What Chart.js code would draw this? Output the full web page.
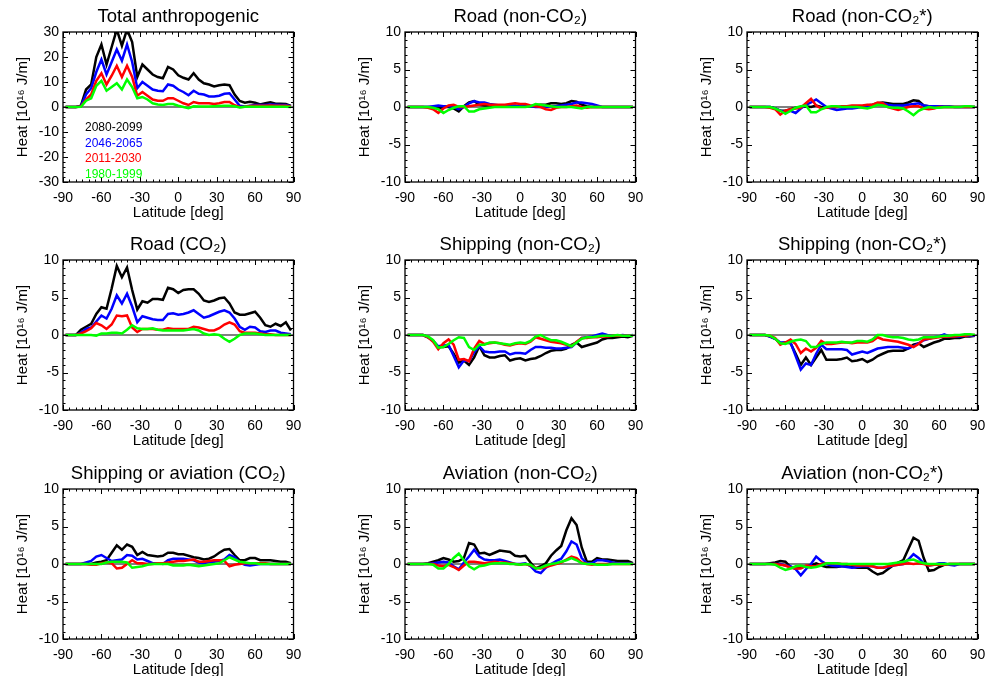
<!DOCTYPE html>
<html><head><meta charset="utf-8">
<script src="https://cdn.jsdelivr.net/npm/chart.js@4/dist/chart.umd.min.js"></script>
<style>
html,body{margin:0;padding:0;background:#fff;width:987px;height:676px;overflow:hidden;position:relative;}
canvas{position:absolute;}
</style></head><body>
<script>
// ---------- DATA ----------
const latitudes = [-88,-84,-80,-76,-72,-68,-64,-60,-56,-52,-48,-44,-40,-36,-32,-28,-24,-20,-16,-12,-8,-4,0,4,8,12,16,20,24,28,32,36,40,44,48,52,56,60,64,68,72,76,80,84,88];
const periods = ['2080-2099','2046-2065','2011-2030','1980-1999'];
const periodColors = ['#000000','#0000ff','#ff0000','#00ff00'];
const xTickLabels = [-90,-60,-30,0,30,60,90];
const yTicksTotal = [-30,-20,-10,0,10,20,30];
const yTicksSector = [-10,-5,0,5,10];
const panelTitles = ['Total anthropogenic','Road (non-CO\u2082)','Road (non-CO\u2082*)','Road (CO\u2082)','Shipping (non-CO\u2082)','Shipping (non-CO\u2082*)','Shipping or aviation (CO\u2082)','Aviation (non-CO\u2082)','Aviation (non-CO\u2082*)'];

// Total anthropogenic
const total_2080 = [0,0,0,0.5,7, 9,20,25,17,24, 31,24.5,31,26,12, 17,15,13,12,11.5, 16,15,12.7,11.7,11, 13.5,11,9.5,9,8.2, 8.7,9,8.7,5,2.4, 1.7,2.1,1.7,1,1.5, 1.9,1.3,1.3,1.2,0.4];
const total_2046 = [0,0,0,0.3,5, 7.5,14,19,13,18, 23,18.5,25,18,7.5, 10,8.5,7,6.5,6.3, 9,8.5,7,6,4.7, 6.5,5.3,5,4.2,4.2, 4.5,5.3,5.5,3,0.5, 0.2,0.5,0.8,0.8,0.8, 1,0.9,0.8,0.8,0.3];
const total_2011 = [0,0,0,0.2,3, 5,10.5,13.5,9,12.5, 16.5,12,16.5,12,4.5, 6,4.5,3,2.5,2.5, 3.5,3.5,2.5,1.5,0.8, 2,1.5,1.5,1.5,1.2, 1.5,2,2,0.7,0, 0.1,0.4,0.5,0.5,0.5, 0.6,0.5,0.5,0.5,0.2];
const total_1980 = [0,0,0,0.1,2.5, 3.5,8.5,10.5,6.5,8, 9.5,7,11,8,3.5, 4,3,1.5,1,0.8, 1.2,1.2,0.5,0,-0.5, 0.3,0.2,0.2,0.2,0.3, 0.4,0.5,0.5,0.3,-0.2, 0.1,0.1,0.1,0.1,0.1, 0.1,0.1,0.1,0.1,0];

// Road (non-CO2)
const roadNon_2080 = [0,0,0,0,0, 0,-0.2,0,0,-0.2, -0.6,0.1,0.6,0.8,0.3, 0.2,0.2,0.1,0.1,0.1, 0.1,0.1,0.1,0.1,0.1, 0.2,0.3,0.3,0.5,0.5, 0.4,0.5,0.8,0.7,0.3, 0.1,0,0,0,0, 0,0,0,0,0];
const roadNon_2046 = [0,0,0,0,0, 0.1,0.2,0.1,0.1,0, -0.3,0,0.5,0.8,0.6, 0.6,0.4,0.3,0.2,0.2, 0.2,0.2,0.1,0.1,0.1, 0,0,0,0.1,0.1, 0.2,0.3,0.4,0.6,0.6, 0.5,0.4,0.2,0,0, 0,0,0,0,0];
const roadNon_2011 = [0,0,0,0,-0.1, -0.3,-0.8,-0.2,0.2,0.3, 0,0,0.1,0.2,0.3, 0.4,0.3,0.3,0.3,0.3, 0.4,0.5,0.4,0.4,0.2, 0.1,0,-0.3,-0.4,-0.1, 0,0,0.1,0.2,0, -0.1,0,0,0,0, 0,0,0,0,0];
const roadNon_1980 = [0,0,0,0,0, -0.1,-0.3,-0.8,-0.4,-0.1, 0.1,0.1,-0.6,-0.6,-0.3, -0.2,-0.1,0,0,0, 0,0,0,0,0.1, 0.4,0.3,0.2,0.1,0, 0,0,0,-0.1,-0.2, 0,0,0,0,0, 0,0,0,0,0];

// Road (non-CO2*)
const roadNonS_2080 = [0,0,0,0,0, -0.2,-0.5,-0.5,-0.3,-0.1, 0,0.1,0,0.2,0, -0.1,-0.1,0,0,0.1, 0.1,0.1,0.1,0.2,0.3, 0.5,0.6,0.5,0.4,0.4, 0.4,0.6,0.9,0.8,0.2, 0.1,0.1,0,0,0, 0,0,0,0,0];
const roadNonS_2046 = [0,0,0,0,0, -0.2,-0.5,-0.7,-0.5,-0.8, -0.2,0.3,0.6,1,0.5, 0,-0.2,-0.4,-0.3,-0.2, -0.2,-0.1,0,0.1,0.2, 0.4,0.5,0.3,0.2,0.2, 0.2,0.3,0.4,0.5,0.2, 0.1,0.1,0.1,0.1,0.1, 0,0,0,0,0];
const roadNonS_2011 = [0,0,0,0,-0.1, -0.3,-1,-0.5,-0.3,-0.2, -0.1,0.5,1.1,0.2,-0.2, -0.1,0,0,0.1,0.1, 0.2,0.2,0.2,0.3,0.3, 0.6,0.5,0,-0.2,-0.4, -0.2,0,0.1,0.1,-0.2, -0.3,-0.2,0,0,0, 0,0,0,0,0];
const roadNonS_1980 = [0,0,0,0,0, -0.2,-0.5,-0.9,-0.5,-0.1, 0.1,0.2,-0.7,-0.7,-0.3, 0,0.1,0.1,0,0, 0,0,-0.1,-0.2,0, 0.3,0.2,0,-0.1,-0.1, -0.2,-0.6,-1.1,-0.5,-0.2, 0,-0.1,-0.1,0,0, 0,0,0.1,0.1,0];

// Road (CO2)
const roadCO2_2080 = [0,0,0,0.7,1.1, 1.5,2.8,3.7,3.5,6.2, 9.2,7.7,9,6,3.4, 4.5,4.3,4.8,4.8,4.7, 6.3,6.1,5.6,6,6.1, 6.1,5.5,4.6,4.4,4.6, 4.9,5,4.2,3,2.7, 2.7,2.9,3.1,2.3,1.3, 1.1,1.5,1.2,1.7,0.6];
const roadCO2_2046 = [0,0,0,0.3,0.8, 1,1.8,2.6,2.2,3.5, 5.3,4.2,5.5,3.8,1.7, 2.5,2.3,2.1,2,2, 2.8,2.9,2.7,2.8,3, 3.3,2.8,2.3,2.5,2.8, 3.1,3.3,3,2.2,1.1, 0.7,1.1,1,0.5,0.4, 0.6,0.6,0.3,0.2,0.1];
const roadCO2_2011 = [0,0,0,0.2,0.5, 0.9,1.6,1.3,0.8,1.4, 2.6,2.5,2.6,1,0.4, 0.8,0.8,0.8,0.7,0.7, 0.9,0.8,0.8,0.8,0.8, 1.1,1,0.8,0.6,0.6, 0.9,1.4,1.7,1.4,0.5, 0.3,0.3,0.3,0.2,0.1, 0.1,0,0,0,0];
const roadCO2_1980 = [0,0,0,0,0, 0,-0.1,0.2,0.2,0.3, 0.3,0.2,0.7,1.3,0.9, 0.8,0.8,0.9,0.7,0.6, 0.6,0.6,0.6,0.6,0.7, 0.8,0.6,0.2,0,0.1, 0,-0.5,-0.9,-0.5,0, 0.2,0.2,0.2,0.1,0, 0,0,0,0,0];

// Shipping (non-CO2)
const shipNon_2080 = [0,0,0,0,-0.3, -0.8,-1.6,-1.6,-1.5,-2.5, -3.7,-3.4,-4,-3,-1.5, -2.7,-3,-3,-2.8,-2.7, -3.4,-3.2,-3.1,-3.4,-3.2, -3.1,-2.8,-2.4,-2.1,-2, -2,-1.8,-1.3,-1,-1.6, -1.4,-1.2,-1,-0.6,-0.4, -0.4,-0.3,-0.2,-0.3,-0.1];
const shipNon_2046 = [0,0,0,0,-0.3, -0.8,-1.5,-1.4,-1.3,-2.8, -4.3,-3.4,-3.5,-2.3,-1.5, -2.2,-2.3,-2.3,-2.2,-2.2, -2.6,-2.4,-2.4,-2.5,-2, -1.6,-1.6,-1.7,-1.7,-1.8, -1.8,-1.7,-1.6,-1,-0.4, -0.3,-0.2,0,0.2,0, -0.1,-0.1,0,-0.1,0];
const shipNon_2011 = [0,0,0,0,-0.3, -0.9,-1.9,-1.1,-0.6,-1.3, -3.3,-3.2,-3.5,-1.8,-0.8, -1.2,-1.1,-1,-1.1,-1.3, -1.4,-1.2,-1.1,-1.2,-0.9, -0.3,-0.5,-0.7,-0.9,-1, -1.1,-1.3,-1.5,-0.9,-0.4, -0.4,-0.3,-0.3,-0.2,-0.2, -0.1,-0.1,-0.1,-0.1,-0.1];
const shipNon_1980 = [0,0,0,0,-0.2, -0.7,-1.7,-1.6,-1.2,-0.7, -0.3,-0.4,-1.6,-2,-1.3, -1.3,-1,-1,-1.1,-1.2, -1.3,-1.1,-1,-1.1,-0.8, -0.2,0,-0.4,-0.7,-0.7, -0.9,-1.2,-1.5,-1,-0.5, -0.3,-0.3,-0.2,-0.1,-0.1, -0.1,0,-0.1,-0.1,-0.1];

// Shipping (non-CO2*)
const shipNonS_2080 = [0,0,0,0,-0.2, -0.5,-1.1,-1,-1.1,-2.5, -4,-3,-4,-3,-2, -3.3,-3.3,-3.3,-3.2,-3, -3.5,-3.4,-3.2,-3.6,-3.3, -2.8,-2.5,-2.2,-2.1,-2.1, -2.1,-1.8,-1.3,-1.1,-1.6, -1.3,-1,-0.8,-0.5,-0.5, -0.4,-0.4,-0.2,-0.2,-0.1];
const shipNonS_2046 = [0,0,0,0,-0.2, -0.5,-1,-1,-1,-2.8, -4.6,-3.8,-4,-2.5,-1.3, -1.9,-1.9,-1.9,-1.9,-2, -2.6,-2.4,-2.2,-2.4,-2.1, -1.8,-1.7,-1.6,-1.6,-1.6, -1.7,-1.8,-1.5,-1.1,-0.7, -0.5,-0.3,-0.2,0.1,-0.2, -0.2,-0.2,-0.1,-0.1,-0.1];
const shipNonS_2011 = [0,0,0,0,-0.1, -0.4,-1.3,-1,-0.6,-1.2, -2.4,-1.8,-2.2,-1.7,-0.8, -1.2,-1.2,-1.1,-1,-1, -1.1,-1,-1,-1,-0.8, -0.3,-0.6,-0.7,-0.8,-0.9, -1.1,-1.3,-1.6,-1.2,-0.6, -0.5,-0.4,-0.3,-0.2,-0.2, -0.2,-0.1,-0.1,0,0];
const shipNonS_1980 = [0,0,0,0,-0.1, -0.5,-1.1,-1.2,-0.9,-0.7, -0.6,-0.8,-1.6,-1.6,-1.2, -1,-1,-1,-0.9,-1, -1,-0.8,-0.8,-0.9,-0.6, 0,0,-0.2,-0.3,-0.3, -0.4,-0.6,-0.7,-0.6,-0.3, -0.3,-0.3,-0.2,-0.1,-0.1, 0,0,0.1,0.1,0];

// Shipping or aviation (CO2)
const shipAvCO2_2080 = [0,0,0,0,0, 0,0.2,0.3,0.5,1.5, 2.5,1.9,2.6,2.3,1.2, 1.6,1.2,1.1,1,1.1, 1.5,1.5,1.3,1.3,1.1, 0.9,0.8,0.6,0.7,1, 1.5,1.9,2,1.2,0.5, 0.5,0.8,0.8,0.5,0.5, 0.5,0.4,0.3,0.3,0.1];
const shipAvCO2_2046 = [0,0,0,0,0.2, 0.4,1,1.2,0.8,0.4, 0.5,0.6,1.2,1.1,0.6, 0.7,0.4,0.1,0.1,0, 0.5,0.7,0.7,0.7,0.6, 0.5,0.2,0.1,0.3,0.3, 0.4,0.6,1.2,0.9,0.2, -0.1,-0.2,-0.1,0,0, 0,0,0,0,0];
const shipAvCO2_2011 = [0,0,0,0,0, -0.1,-0.1,0.1,0.2,0.1, -0.6,-0.5,0,0.5,0.1, 0.1,0,0,0.1,0.1, 0.2,0.3,0.4,0.4,0.5, 0.6,0.3,0.3,0.4,0.5, 0.5,0.4,-0.3,-0.1,0, 0.1,0.1,0.1,0.1,0.1, 0,0,0,0,0];
const shipAvCO2_1980 = [0,0,0,0,0, 0,0,0,0.2,0.3, 0.3,0.3,0.2,-0.5,-0.4, -0.3,-0.1,0,0,0, 0,-0.2,-0.2,-0.2,-0.1, -0.2,-0.3,-0.2,-0.1,0, 0.1,0.5,0.9,0.6,0.3, 0.2,0.1,0.1,0,0, 0,0,0,0,0];

// Aviation (non-CO2)
const avNon_2080 = [0,0,0,0,0.1, 0.3,0.5,0.8,0.6,0.3, 0.4,0.8,2.8,2.6,1.4, 1.5,1.2,1.5,1.8,1.7, 1.6,1.1,1,1.1,0.2, -0.6,-0.3,0.1,1.1,1.8, 2.4,4.5,6.1,5.2,2.2, 0.3,0.3,0.8,0.6,0.6, 0.5,0.4,0.4,0.4,0.1];
const avNon_2046 = [0,0,0,0,0, 0.1,0.2,0.3,0.2,-0.3, -0.7,0.2,1,1.9,1, 0.6,0.5,0.5,0.6,0.4, 0.2,0,0,0.1,-0.3, -1,-1.2,-0.5,0,0.4, 0.7,1.7,3,2.6,0.8, 0.1,0.1,0.5,0.5,0.4, 0.2,0.1,0.1,0.1,0];
const avNon_2011 = [0,0,0,0,0, 0,-0.2,-0.3,-0.1,-0.4, -0.8,-0.2,0.3,0.3,0.2, 0.1,0.2,0.3,0.2,0.2, 0.1,0,-0.1,0,-0.2, -0.5,-0.6,-0.4,-0.2,0, 0.2,0.6,1,0.8,0.2, 0,-0.1,0,0,0, 0,0,0,0,0];
const avNon_1980 = [0,0,0,0,0, -0.1,-0.6,-0.6,0,0.8, 1.4,0.5,-0.3,-0.7,-0.3, -0.2,0,0.1,0.1,0.1, 0,0,-0.1,0,-0.1, -0.6,-0.5,-0.2,0,0.1, 0.3,0.5,0.8,0.5,0.1, 0,0,-0.1,-0.1,-0.1, 0,0,0,0,0];

// Aviation (non-CO2*)
const avNonS_2080 = [0,0,0,0,0.1, 0.2,0.4,0.3,-0.4,-0.6, -0.5,-0.3,-0.2,0.1,-0.2, -0.4,-0.4,-0.4,-0.3,-0.3, -0.4,-0.5,-0.5,-0.5,-1, -1.4,-1.2,-0.7,-0.2,0.2, 0.5,2,3.5,3.1,0.8, -0.9,-0.8,-0.4,-0.1,0, 0,0,0,0,0];
const avNonS_2046 = [0,0,0,0,0, 0,0,-0.2,-0.3,-0.7, -1.5,-0.7,0,1,0.4, 0,-0.2,-0.3,-0.3,-0.4, -0.5,-0.4,-0.3,-0.3,-0.3, -0.5,-0.5,-0.4,-0.2,-0.1, 0,0.6,1.3,0.8,0.1, -0.2,-0.1,0.1,0.1,-0.1, -0.2,0,0,0,0];
const avNonS_2011 = [0,0,0,0,0, 0,-0.1,-0.2,-0.5,-0.6, -0.6,-0.2,-0.3,-0.3,0, 0.1,0.1,0.1,0,0, -0.1,-0.2,-0.2,-0.2,-0.3, -0.5,-0.5,-0.3,-0.2,-0.1, 0,0.1,0,0.1,0, -0.2,-0.1,-0.1,-0.1,0, 0,0,0,0,0];
const avNonS_1980 = [0,0,0,0,0, -0.1,-0.5,-0.8,-0.6,-0.3, -0.2,-0.4,-0.5,-0.4,-0.2, 0.1,0.1,0.1,0,0, 0,0,0,0,0, 0,0,0,0.1,0.2, 0.3,0.5,0.6,0.3,0.1, 0,0,0,0,0, 0,0,0,0,0];

// ---------- LAYOUT ----------
const FONT = "'Liberation Sans', Arial, Helvetica, sans-serif";
Chart.defaults.font.family = FONT;
Chart.defaults.color = '#000';

const panels = [
  {title: panelTitles[0], series: [total_2080,total_2046,total_2011,total_1980], yTicks: yTicksTotal, yMinor: 2, legend: true},
  {title: panelTitles[1], series: [roadNon_2080,roadNon_2046,roadNon_2011,roadNon_1980], yTicks: yTicksSector, yMinor: 1},
  {title: panelTitles[2], series: [roadNonS_2080,roadNonS_2046,roadNonS_2011,roadNonS_1980], yTicks: yTicksSector, yMinor: 1},
  {title: panelTitles[3], series: [roadCO2_2080,roadCO2_2046,roadCO2_2011,roadCO2_1980], yTicks: yTicksSector, yMinor: 1},
  {title: panelTitles[4], series: [shipNon_2080,shipNon_2046,shipNon_2011,shipNon_1980], yTicks: yTicksSector, yMinor: 1},
  {title: panelTitles[5], series: [shipNonS_2080,shipNonS_2046,shipNonS_2011,shipNonS_1980], yTicks: yTicksSector, yMinor: 1},
  {title: panelTitles[6], series: [shipAvCO2_2080,shipAvCO2_2046,shipAvCO2_2011,shipAvCO2_1980], yTicks: yTicksSector, yMinor: 1},
  {title: panelTitles[7], series: [avNon_2080,avNon_2046,avNon_2011,avNon_1980], yTicks: yTicksSector, yMinor: 1},
  {title: panelTitles[8], series: [avNonS_2080,avNonS_2046,avNonS_2011,avNonS_1980], yTicks: yTicksSector, yMinor: 1}
];
const frameLefts = [63, 405, 747];
const frameTops = [32, 260, 489];
const AXW = 62, TOPH = 32, BOTH = 44, PW = 232, PH = 150, RPAD = 14;

const frameTicks = {
  id: 'frameTicks',
  beforeDatasetsDraw(chart) {
    const {ctx, chartArea: a, scales: {y}} = chart;
    const y0 = y.getPixelForValue(0);
    ctx.save();
    ctx.strokeStyle = '#808080'; ctx.lineWidth = 2;
    ctx.beginPath(); ctx.moveTo(a.left, y0); ctx.lineTo(a.right, y0); ctx.stroke();
    ctx.restore();
  },
  afterDatasetsDraw(chart, args, opts) {
    const {ctx, chartArea: a, scales: {x, y}} = chart;
    ctx.save();
    ctx.strokeStyle = '#000'; ctx.lineWidth = 1.3;
    ctx.strokeRect(a.left, a.top, a.right - a.left, a.bottom - a.top);
    ctx.lineWidth = 1;
    const drawSet = (scale, minor, major, horiz) => {
      const n = Math.round((scale.max - scale.min) / minor);
      for (let k = 0; k <= n; k++) {
        const v = scale.min + k * minor;
        const isMajor = Math.abs(Math.round(v / major) * major - v) < 1e-6;
        const len = isMajor ? 5 : 2.5;
        const p = Math.round(scale.getPixelForValue(v)) + 0.5;
        ctx.beginPath();
        if (horiz) {
          ctx.moveTo(p, a.bottom); ctx.lineTo(p, a.bottom - len);
          ctx.moveTo(p, a.top); ctx.lineTo(p, a.top + len);
        } else {
          ctx.moveTo(a.left, p); ctx.lineTo(a.left + len, p);
          ctx.moveTo(a.right, p); ctx.lineTo(a.right - len, p);
        }
        ctx.stroke();
      }
    };
    drawSet(x, opts.xMinor, opts.xMajor, true);
    drawSet(y, opts.yMinor, opts.yMajor, false);
    ctx.restore();
  },
  afterDraw(chart, args, opts) {
    if (!opts.legend) return;
    const {ctx, chartArea: a} = chart;
    ctx.save();
    ctx.font = '12px ' + FONT;
    ctx.textBaseline = 'middle';
    ctx.textAlign = 'left';
    periods.forEach((p, i) => {
      ctx.fillStyle = periodColors[i];
      ctx.fillText(p, a.left + 22, a.top + 96 + i * 15.5);
    });
    ctx.restore();
  }
};

panels.forEach((pn, idx) => {
  const col = idx % 3, row = Math.floor(idx / 3);
  const cv = document.createElement('canvas');
  const W = AXW + PW + RPAD, H = TOPH + PH + BOTH;
  cv.width = W; cv.height = H;
  cv.style.left = (frameLefts[col] - AXW) + 'px';
  cv.style.top = (frameTops[row] - TOPH) + 'px';
  cv.style.width = W + 'px'; cv.style.height = H + 'px';
  document.body.appendChild(cv);
  const yMax = pn.yTicks[pn.yTicks.length - 1];
  const yStep = pn.yTicks[1] - pn.yTicks[0];
  const datasets = pn.series.map((vals, i) => ({
    label: periods[i],
    data: latitudes.map((lat, j) => ({x: lat, y: vals[j]})),
    borderColor: periodColors[i],
    borderWidth: 2.5,
    pointRadius: 0,
    tension: 0,
    fill: false,
    order: 4 - i
  }));
  new Chart(cv, {
    type: 'line',
    data: {datasets},
    plugins: [frameTicks],
    options: {
      responsive: false,
      animation: false,
      devicePixelRatio: 1,
      layout: {padding: {left: 0, right: RPAD, top: 0, bottom: 0}},
      plugins: {
        legend: {display: false},
        tooltip: {enabled: false},
        title: {
          display: true, text: pn.title, fullSize: false,
          font: {size: 18.5, weight: 'normal', family: FONT},
          color: '#000',
          padding: {top: 5.6, bottom: 4.2}
        },
        frameTicks: {xMinor: 5, xMajor: 30, yMinor: pn.yMinor, yMajor: yStep, legend: !!pn.legend}
      },
      scales: {
        x: {
          type: 'linear', min: xTickLabels[0], max: xTickLabels[xTickLabels.length - 1],
          afterFit: s => { s.height = BOTH; },
          afterBuildTicks: s => { s.ticks = xTickLabels.map(v => ({value: v})); },
          grid: {display: false, drawTicks: false},
          border: {display: false},
          ticks: {font: {size: 14}, color: '#000', padding: 7.7, maxRotation: 0, autoSkip: false},
          title: {display: true, text: 'Latitude [deg]', font: {size: 15}, color: '#000', padding: {top: 0, bottom: 4.6}}
        },
        y: {
          type: 'linear', min: -yMax, max: yMax,
          afterFit: s => { s.width = AXW; },
          afterBuildTicks: s => { s.ticks = pn.yTicks.map(v => ({value: v})); },
          grid: {display: false, drawTicks: false},
          border: {display: false},
          ticks: {font: {size: 14}, color: '#000', padding: 4, autoSkip: false},
          title: {display: true, text: 'Heat [10\u00B9\u2076 J/m]', font: {size: 15}, color: '#000', padding: {top: 12.8, bottom: 0}}
        }
      }
    }
  });
});
</script>
</body></html>
